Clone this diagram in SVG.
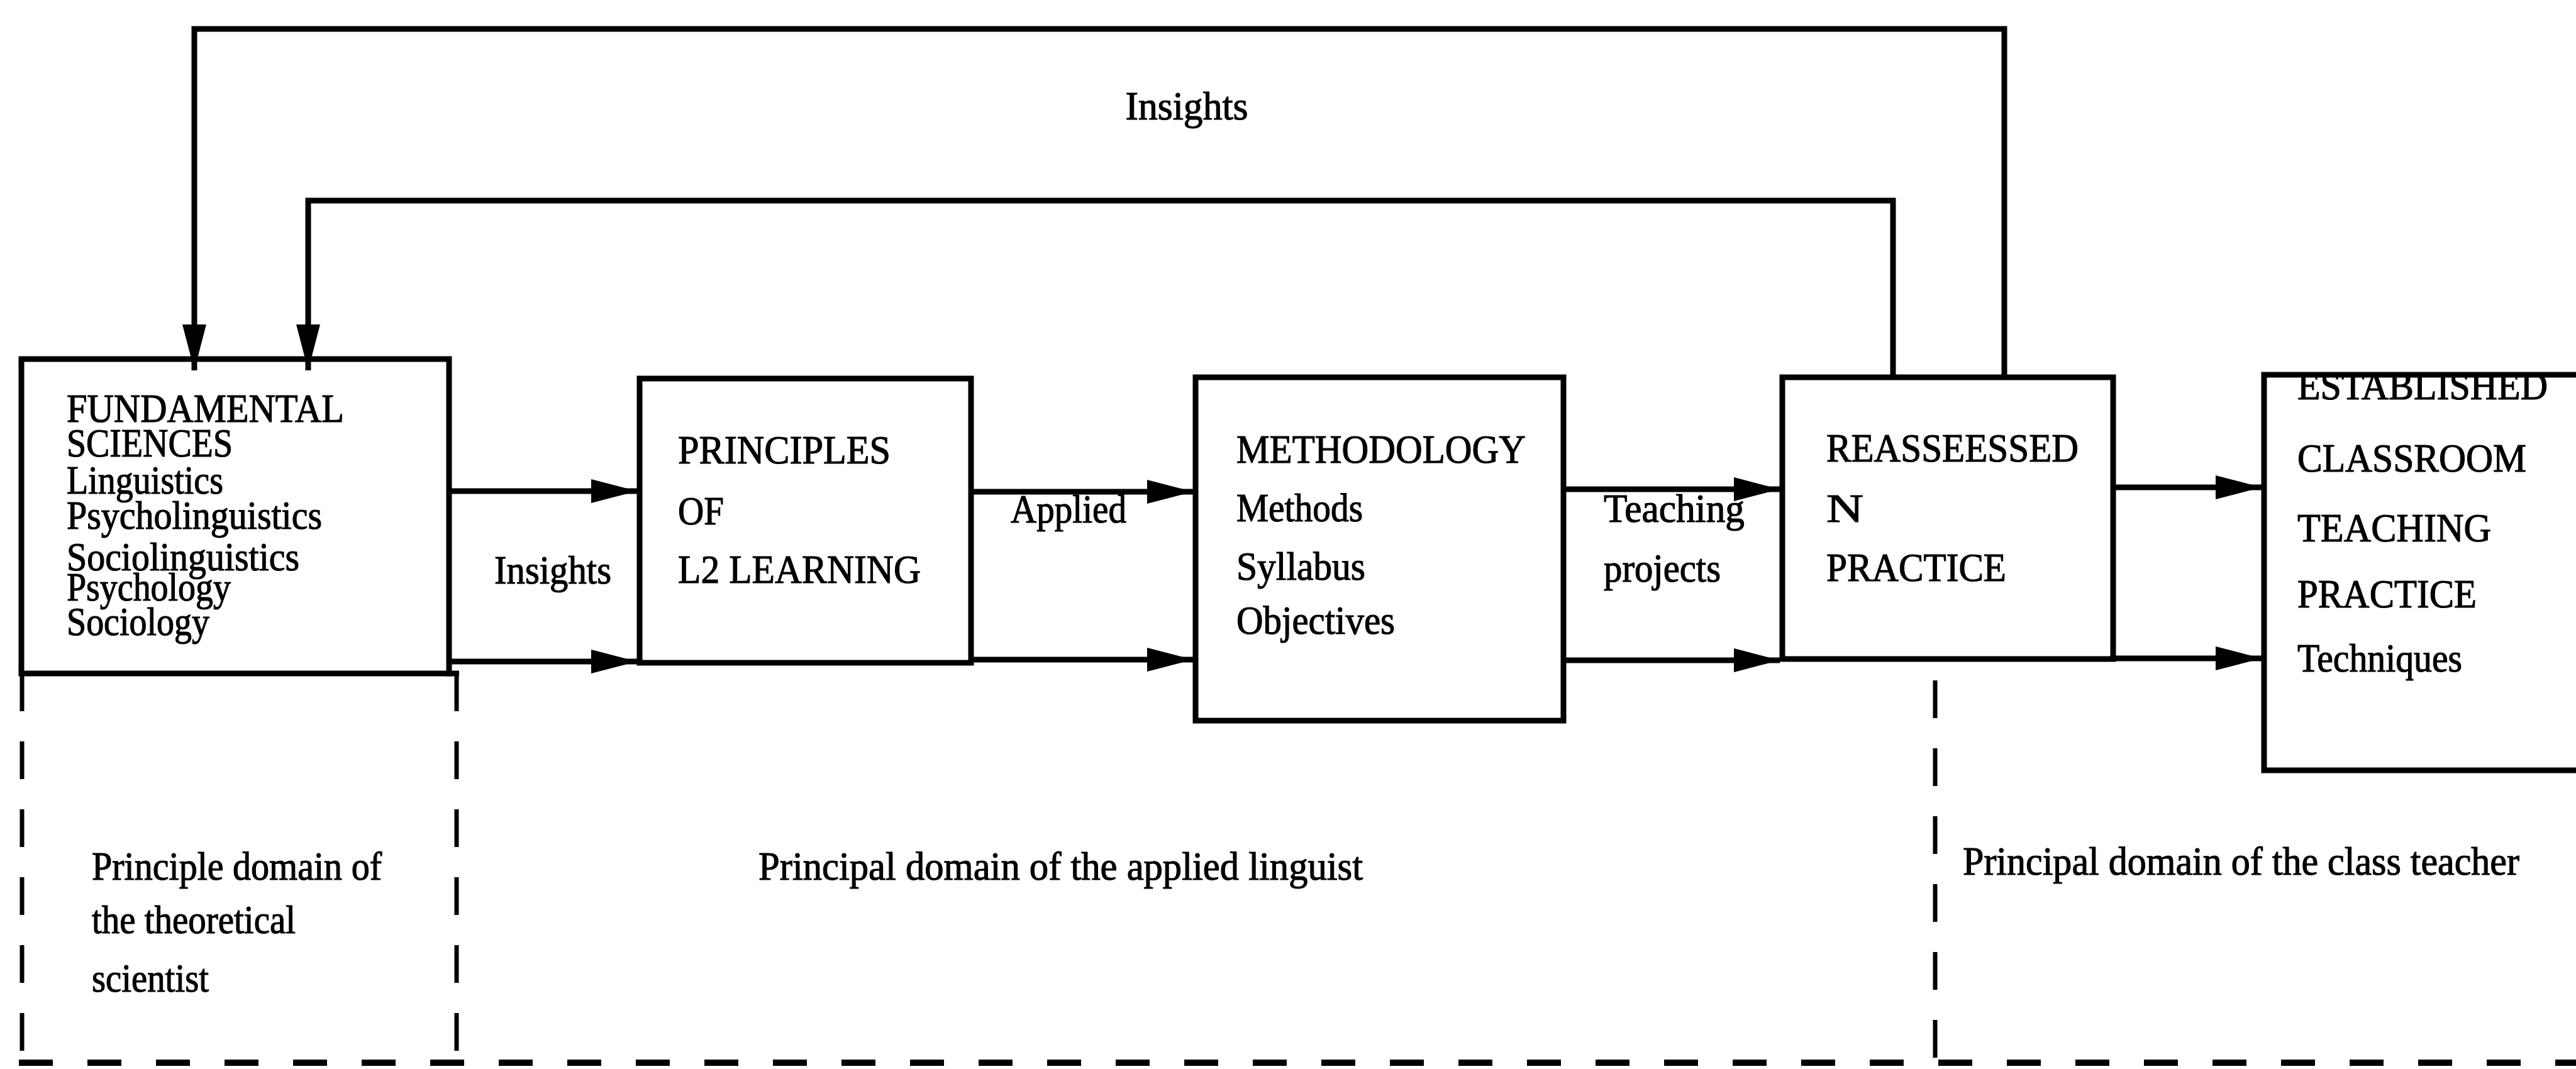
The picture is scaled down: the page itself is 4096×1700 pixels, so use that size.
<svg xmlns="http://www.w3.org/2000/svg" width="4096" height="1700" viewBox="0 0 4096 1700">
  <style>
    .box { fill: none; stroke: #000; stroke-width: 9; }
    .wire { fill: none; stroke: #000; stroke-width: 9; }
    .dash { fill: none; stroke: #000; stroke-width: 7; stroke-dasharray: 60 48; }
    .dashh { fill: none; stroke: #000; stroke-width: 10; stroke-dasharray: 54 55; }
    text { font-family: "Liberation Serif", "Times New Roman", serif; font-size: 64px; fill: #000; stroke: #000; stroke-width: 1.2; }
  </style>
  <defs>
    <marker id="arrow" markerUnits="userSpaceOnUse" markerWidth="80" markerHeight="44" viewBox="0 -22 80 44" refX="73" refY="0" orient="auto">
      <path d="M0,-19 L73,0 L0,19 Z" fill="#000"/>
    </marker>
  </defs>
  <rect width="4096" height="1700" fill="#fff"/>

  <!-- domain boundaries -->
  <g id="domains">
    <line class="wire" x1="710" y1="1071" x2="730" y2="1071"/>
    <line class="dash" x1="35" y1="1071" x2="35" y2="1700"/>
    <line class="dash" x1="726" y1="1071" x2="726" y2="1700"/>
    <line class="dash" x1="3077" y1="1082" x2="3077" y2="1700"/>
    <line class="dashh" x1="30" y1="1690" x2="4096" y2="1690"/>
    <text x="146" y="1399" textLength="461" lengthAdjust="spacingAndGlyphs">Principle domain of</text>
    <text x="146" y="1484" textLength="324" lengthAdjust="spacingAndGlyphs">the theoretical</text>
    <text x="146" y="1577" textLength="186" lengthAdjust="spacingAndGlyphs">scientist</text>
    <text x="1206" y="1399" textLength="961" lengthAdjust="spacingAndGlyphs">Principal domain of the applied linguist</text>
    <text x="3121" y="1391" textLength="885" lengthAdjust="spacingAndGlyphs">Principal domain of the class teacher</text>
  </g>

  <!-- connectors -->
  <g id="connectors">
    <path class="wire" d="M3187,600 V46 H309 V589" marker-end="url(#arrow)"/>
    <path class="wire" d="M3010,600 V319 H490 V589" marker-end="url(#arrow)"/>
    <text x="1887" y="190" text-anchor="middle" textLength="195" lengthAdjust="spacingAndGlyphs">Insights</text>

    <line class="wire" x1="714" y1="781" x2="1013" y2="781" marker-end="url(#arrow)"/>
    <line class="wire" x1="714" y1="1052" x2="1013" y2="1052" marker-end="url(#arrow)"/>
    <text x="786" y="928" textLength="186" lengthAdjust="spacingAndGlyphs">Insights</text>

    <line class="wire" x1="1544" y1="782" x2="1897" y2="782" marker-end="url(#arrow)"/>
    <line class="wire" x1="1544" y1="1049" x2="1897" y2="1049" marker-end="url(#arrow)"/>
    <text x="1607" y="831" textLength="184" lengthAdjust="spacingAndGlyphs">Applied</text>

    <line class="wire" x1="2486" y1="778" x2="2830" y2="778" marker-end="url(#arrow)"/>
    <line class="wire" x1="2486" y1="1050" x2="2830" y2="1050" marker-end="url(#arrow)"/>
    <text x="2550" y="830" textLength="224" lengthAdjust="spacingAndGlyphs">Teaching</text>
    <text x="2550" y="925" textLength="186" lengthAdjust="spacingAndGlyphs">projects</text>

    <line class="wire" x1="3360" y1="775" x2="3596" y2="775" marker-end="url(#arrow)"/>
    <line class="wire" x1="3360" y1="1047" x2="3596" y2="1047" marker-end="url(#arrow)"/>
  </g>

  <!-- nodes -->
  <g id="fundamental-sciences">
    <rect class="box" x="34" y="571" width="680" height="500"/>
    <text x="106" y="671" textLength="441" lengthAdjust="spacingAndGlyphs">FUNDAMENTAL</text>
    <text x="106" y="726" textLength="264" lengthAdjust="spacingAndGlyphs">SCIENCES</text>
    <text x="106" y="785" textLength="249" lengthAdjust="spacingAndGlyphs">Linguistics</text>
    <text x="106" y="841" textLength="406" lengthAdjust="spacingAndGlyphs">Psycholinguistics</text>
    <text x="106" y="907" textLength="370" lengthAdjust="spacingAndGlyphs">Sociolinguistics</text>
    <text x="106" y="955" textLength="261" lengthAdjust="spacingAndGlyphs">Psychology</text>
    <text x="106" y="1010" textLength="227" lengthAdjust="spacingAndGlyphs">Sociology</text>
  </g>

  <g id="principles">
    <rect class="box" x="1017" y="602" width="527" height="452"/>
    <text x="1078" y="737" textLength="338" lengthAdjust="spacingAndGlyphs">PRINCIPLES</text>
    <text x="1078" y="834" textLength="73" lengthAdjust="spacingAndGlyphs">OF</text>
    <text x="1078" y="927" textLength="386" lengthAdjust="spacingAndGlyphs">L2 LEARNING</text>
  </g>

  <g id="methodology">
    <rect class="box" x="1901" y="600" width="585" height="546"/>
    <text x="1966" y="736" textLength="460" lengthAdjust="spacingAndGlyphs">METHODOLOGY</text>
    <text x="1966" y="829" textLength="201" lengthAdjust="spacingAndGlyphs">Methods</text>
    <text x="1966" y="922" textLength="205" lengthAdjust="spacingAndGlyphs">Syllabus</text>
    <text x="1966" y="1008" textLength="252" lengthAdjust="spacingAndGlyphs">Objectives</text>
  </g>

  <g id="reassessed">
    <rect class="box" x="2834" y="600" width="526" height="448"/>
    <text x="2904" y="734" textLength="401" lengthAdjust="spacingAndGlyphs">REASSEESSED</text>
    <text x="2904" y="830" textLength="59" lengthAdjust="spacingAndGlyphs">N</text>
    <text x="2904" y="924" textLength="286" lengthAdjust="spacingAndGlyphs">PRACTICE</text>
  </g>

  <g id="established-practice">
    <!-- heading sits tight under the top edge, its cap tops hidden by the border -->
    <text x="3653" y="635" textLength="398" lengthAdjust="spacingAndGlyphs">ESTABLISHED</text>
    <rect x="3596" y="560" width="520" height="40" fill="#fff"/>
    <rect class="box" x="3600" y="596" width="520" height="629"/>
    <text x="3653" y="750" textLength="364" lengthAdjust="spacingAndGlyphs">CLASSROOM</text>
    <text x="3653" y="861" textLength="308" lengthAdjust="spacingAndGlyphs">TEACHING</text>
    <text x="3653" y="966" textLength="285" lengthAdjust="spacingAndGlyphs">PRACTICE</text>
    <text x="3653" y="1068" textLength="262" lengthAdjust="spacingAndGlyphs">Techniques</text>
  </g>
</svg>
